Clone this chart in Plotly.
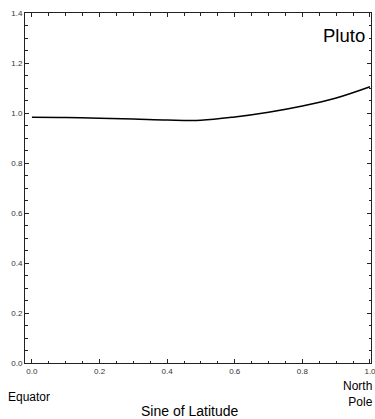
import plotly.graph_objects as go

sin_lat = [0.0, 0.1, 0.2, 0.3, 0.4, 0.5, 0.6, 0.7, 0.8, 0.9, 1.0]
ratio = [0.983, 0.982, 0.979, 0.976, 0.972, 0.971, 0.984, 1.003, 1.028, 1.060, 1.105]
x_tick_step = 0.2
y_tick_step = 0.2
minor_step = 0.05

fig = go.Figure()
fig.add_trace(go.Scatter(x=sin_lat, y=ratio, mode="lines",
                         line=dict(color="black", width=1.5, shape="spline"),
                         showlegend=False, hoverinfo="skip", cliponaxis=False))

axis_common = dict(showgrid=False, zeroline=False, showline=True, linecolor="#222",
                   linewidth=1, mirror="allticks", ticks="inside", ticklen=4,
                   tickwidth=1, tickcolor="#222", tickformat=".1f", tickmode="linear",
                   tick0=0, ticklabeloverflow="allow", automargin=False,
                   tickfont=dict(family="Liberation Sans, Arial", size=8, color="#333"),
                   minor=dict(dtick=minor_step, ticks="inside", ticklen=2.5,
                              tickcolor="#222", tickwidth=1, showgrid=False))

fig.update_xaxes(range=[-0.0205, 1.003], dtick=x_tick_step, **axis_common)
fig.update_yaxes(range=[0, 1.4], dtick=y_tick_step, **axis_common)

fig.add_annotation(text="Pluto", xref="paper", yref="paper", x=0.988, y=0.937,
                   xanchor="right", yanchor="middle", showarrow=False,
                   font=dict(family="Liberation Sans, Arial", size=18.5, color="black"))
fig.add_annotation(text="Equator", xref="paper", yref="paper", x=-0.055, y=-0.097,
                   xanchor="left", yanchor="middle", showarrow=False,
                   font=dict(family="Liberation Sans, Arial", size=12, color="black"))
fig.add_annotation(text="North<br>Pole", xref="paper", yref="paper", x=1.012, y=-0.088,
                   xanchor="right", yanchor="middle", align="right", showarrow=False,
                   font=dict(family="Liberation Sans, Arial", size=12, color="black"))
fig.add_annotation(text="Sine of Latitude", xref="paper", yref="paper", x=0.477, y=-0.137,
                   xanchor="center", yanchor="middle", showarrow=False,
                   font=dict(family="Liberation Sans, Arial", size=14, color="black"))

fig.update_layout(width=375, height=419, margin=dict(l=25, r=4, t=13, b=56),
                  plot_bgcolor="white", paper_bgcolor="white")
fig.write_html("out.html")
